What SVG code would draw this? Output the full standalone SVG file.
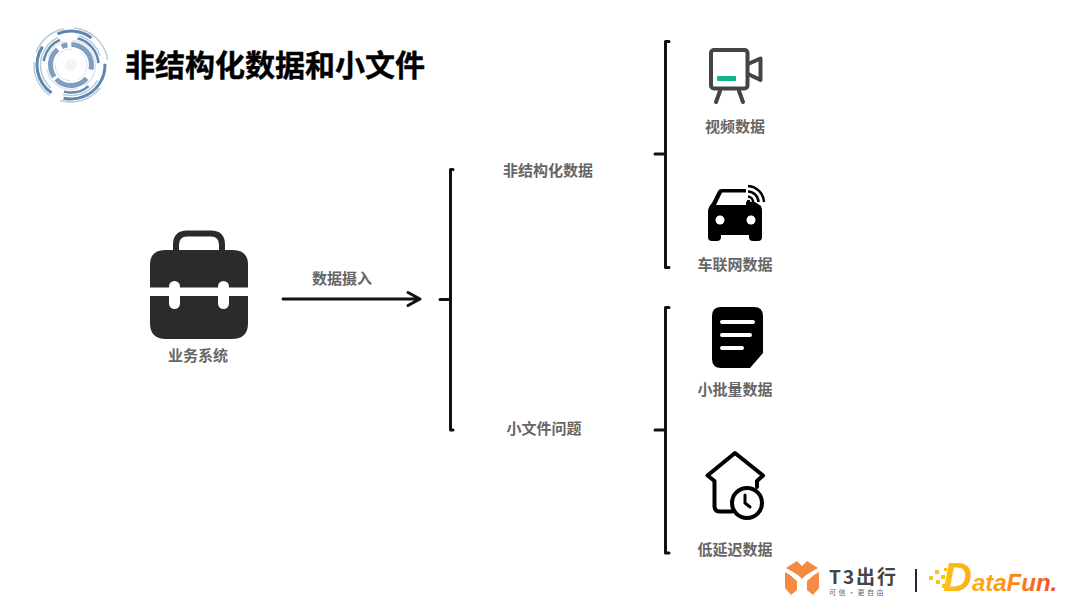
<svg xmlns="http://www.w3.org/2000/svg" width="1080" height="608" viewBox="0 0 1080 608">
<defs>
<style>
text{font-family:"Noto Sans CJK SC","Noto Sans",sans-serif}
.lbl{font-size:15px;font-weight:700;fill:#666;text-anchor:middle}
.title{font-size:30px;font-weight:700;fill:#000;stroke:#000;stroke-width:.4}
.br{fill:none;stroke:#111;stroke-width:3;stroke-linecap:round;stroke-linejoin:round}
.ring{fill:none;stroke:#5f86b0}
.ringl{fill:none;stroke:#b9cadb}
.ringp{fill:none;stroke:#dbe4ee}
</style>
<linearGradient id="df" gradientUnits="userSpaceOnUse" x1="943" x2="1058" y1="0" y2="0"><stop offset="0" stop-color="#fbc21a"/><stop offset="0.5" stop-color="#fb9a10"/><stop offset="1" stop-color="#f4481e"/></linearGradient>
</defs>
<rect width="1080" height="608" fill="#fff"/>

<!-- emblem: concentric broken rings around a pale centre -->
<g id="emblem" transform="translate(71 65)">
<circle class="ringl" r="37" stroke-width="1.500" stroke-dasharray="38 10 50 30 44 12" transform="rotate(200)"/>
<circle class="ring" r="34" stroke-width="3" stroke-dasharray="52 20 36 30 62 14" transform="rotate(125)"/>
<circle class="ringl" r="30.500" stroke-width="1.500" stroke-dasharray="40 14 60 22 30 26" transform="rotate(30)"/>
<circle class="ring" r="27.500" stroke-width="2.500" stroke-dasharray="34 26 26 40 28 18" transform="rotate(285)"/>
<circle class="ringp" r="24.500" stroke-width="1.500" stroke-dasharray="24 8 40 12"/>
<circle class="ring" r="20.500" stroke-width="5" stroke-dasharray="20 3 30 5 6 4 36 10 15 2" opacity=".8" transform="rotate(80)"/>
<circle class="ringp" r="16" stroke-width="1" stroke-dasharray="18 8 26 6"/>
<circle r="6" fill="#f1f5fa"/>
</g>

<g id="heading"><text class="title" x="125" y="76">非结构化数据和小文件</text></g>

<g id="connectors">
<path class="br" d="M283 299H420M408 292.500L420 299L408 305.500"/>
<path class="br" d="M453 169.500H450.500V430H453M440 299.500H450"/>
<path class="br" d="M669 41.500H665.500V267.500H669M655 154H665"/>
<path class="br" d="M669 307.500H665.500V553H669M655 430H665"/>
</g>

<g id="node-business">
<path fill="none" stroke="#2b2b2b" stroke-width="6" d="M176 252V245Q176 233.500 187 233.500H211Q222 233.500 222 245V252"/>
<path fill="#2b2b2b" d="M150 287.500V265Q150 250 165 250H233Q248 250 248 265V287.500Z"/>
<path fill="#2b2b2b" d="M150 296H248V323Q248 339 232 339H166Q150 339 150 323Z"/>
<rect x="169" y="281" width="11" height="28" rx="5.500" fill="#fff"/>
<rect x="218" y="281" width="11" height="28" rx="5.500" fill="#fff"/>
<text class="lbl" x="198" y="360.500">业务系统</text>
</g>

<g id="label-ingest"><text class="lbl" x="342" y="283.500">数据摄入</text></g>
<g id="label-unstructured"><text class="lbl" x="548" y="175.500">非结构化数据</text></g>
<g id="label-small-files"><text class="lbl" x="544" y="433.500">小文件问题</text></g>

<g id="node-video">
<rect x="711" y="50" width="36.500" height="38.500" rx="3" fill="none" stroke="#444" stroke-width="4"/>
<path fill="none" stroke="#444" stroke-width="4" stroke-linejoin="round" d="M748 64L760.500 58.500V80L748 74"/>
<path fill="none" stroke="#444" stroke-width="4" stroke-linecap="round" d="M720 91L716 102M739 91L743 102"/>
<rect x="717" y="76" width="19" height="5" rx="1" fill="#10b48a"/>
<text class="lbl" x="735" y="131.500">视频数据</text>
</g>

<g id="node-vehicle">
<path fill="#000" d="M708 212Q708 207 712 203L718 191Q719 189 722 189H746V192.500H722L716 205H746V202H755L761 206Q762 208 762 212V237Q762 241 758 241H753Q749 241 749 237V235H721V237Q721 241 717 241H712Q708 241 708 237Z"/>
<circle cx="720" cy="220" r="4.500" fill="#fff"/>
<circle cx="751" cy="220" r="4.500" fill="#fff"/>
<g fill="none" stroke="#000" stroke-width="2.500">
<path d="M748 186A17 17 0 0 1 764 202"/>
<path d="M748 191.500A11 11 0 0 1 758.500 202"/>
<path d="M748 196.500A5.500 5.500 0 0 1 753 202"/>
</g>
<circle cx="748.500" cy="201.500" r="1.800" fill="#000"/>
<text class="lbl" x="735" y="269.500">车联网数据</text>
</g>

<g id="node-batch">
<path fill="#000" d="M712 316Q712 307 721 307H754Q763 307 763 316V353L750 368H721Q712 368 712 359Z"/>
<g stroke="#fff" stroke-width="4" stroke-linecap="round">
<path d="M722 322H753M722 335H750M722 348H742"/>
</g>
<text class="lbl" x="735" y="394.500">小批量数据</text>
</g>

<g id="node-latency">
<path fill="none" stroke="#000" stroke-width="4" stroke-linejoin="round" stroke-linecap="round" d="M732 511.500H720Q714.500 511.500 714.500 506V481L707.500 475.500L735 453L763 475.500L757 481V487"/>
<circle cx="747" cy="503" r="15" fill="#fff" stroke="#000" stroke-width="4"/>
<path fill="none" stroke="#000" stroke-width="3" stroke-linecap="round" d="M745 495V503L750 507"/>
<text class="lbl" x="735" y="554.500">低延迟数据</text>
</g>

<g id="logo-t3">
<path fill="#f58a42" d="M797 561L802 566L807 561L818 568L806 575L802 579L798 575L786 568ZM785 572L790 575L797 581V590L791 595L785 588ZM819 572V588L813 595L807 590V581L814 575Z"/>
<text x="829" y="584" font-size="19" font-weight="700" fill="#444" letter-spacing="2">T3出行</text>
<text x="829" y="595" font-size="7" fill="#666" letter-spacing="2.500">可信·更自由</text>
<rect x="915" y="569" width="2" height="23" fill="#1b2a3a"/>
</g>

<g id="logo-datafun">
<g fill="#fbc21a">
<rect x="929" y="576" width="4" height="4"/><rect x="935" y="570" width="4" height="4"/><rect x="936" y="580" width="4" height="4"/><rect x="941" y="575" width="4" height="4"/><rect x="942" y="584" width="4" height="4"/><rect x="944" y="568" width="3" height="3"/>
</g>
<text x="943" y="591" font-size="24" font-weight="700" font-style="italic" fill="url(#df)" style="font-family:'Liberation Sans',sans-serif"><tspan font-size="40">D</tspan>ataFun.</text>
</g>
</svg>
